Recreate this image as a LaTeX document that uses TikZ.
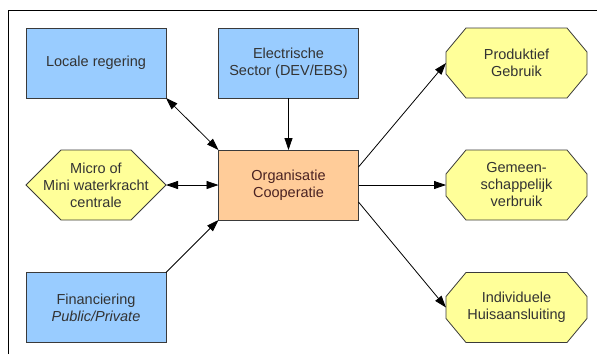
\documentclass[tikz,border=0pt]{standalone}
\usepackage{fontspec}
\setmainfont{Liberation Sans}
\usetikzlibrary{arrows.meta,calc}
\pgfdeclarelayer{bg}
\pgfsetlayers{bg,main}
\definecolor{boxblue}{HTML}{99CCFF}
\definecolor{boxorange}{HTML}{FFCC99}
\definecolor{boxyellow}{HTML}{FFFF99}
\definecolor{edgegray}{HTML}{3A3A3A}
\definecolor{txtgray}{HTML}{333333}
\definecolor{txtbrown}{HTML}{4A2222}
\tikzset{
  base/.style={minimum width=140pt, minimum height=70pt, inner sep=0pt, outer sep=0pt,
    align=center, text=txtgray, font=\fontsize{14.5}{17}\selectfont},
  bluebox/.style={base, draw=edgegray, line width=0.8pt, fill=boxblue},
  orgbox/.style={base, draw=edgegray, line width=0.8pt, fill=boxorange, text=txtbrown},
  shapebox/.style={base},
  shapeline/.style={draw=edgegray, line width=0.8pt, fill=boxyellow},
  conn/.style={line width=0.8pt, draw=black, -{Triangle[length=12pt,width=8pt]}},
  biconn/.style={line width=0.8pt, draw=black, {Triangle[length=12pt,width=8pt]}-{Triangle[length=12pt,width=8pt]}},
  frameline/.style={line width=1pt, draw=black}
}
\begin{document}
\begin{tikzpicture}[x=1pt,y=-1pt]
\useasboundingbox (0,0) rectangle (597,354);
\draw[frameline] (8,354) -- (8,10) -- (597,10);

\node[bluebox] (loc) at (96,63) {Locale regering};
\node[bluebox] (elec) at (288.5,63) {Electrische\\Sector (DEV/EBS)};
\node[orgbox] (org) at (288.5,185) {Organisatie\\Cooperatie};
\node[shapebox] (micro) at (96,185) {Micro of\\Mini waterkracht\\centrale};
\node[bluebox] (fin) at (96,307.5) {Financiering\\\textit{Public/Private}};
\node[shapebox, minimum width=141pt] (prod) at (516.5,63) {Produktief\\Gebruik};
\node[shapebox, minimum width=141pt] (gem) at (516.5,185) {Gemeen-\\schappelijk\\verbruik};
\node[shapebox, minimum width=141pt] (ind) at (516.5,307.5) {Individuele\\Huisaansluiting};

\begin{pgfonlayer}{bg}
\draw[shapeline] (micro.west) -- ($(micro.north west)+(35,0)$) -- ($(micro.north east)+(-35,0)$)
  -- (micro.east) -- ($(micro.south east)+(-35,0)$) -- ($(micro.south west)+(35,0)$) -- cycle;
\foreach \n in {prod,gem,ind}{
  \draw[shapeline] ($(\n.north west)+(0,24)$) -- ($(\n.north west)+(20,0)$) -- ($(\n.north east)+(-20,0)$)
    -- ($(\n.north east)+(0,24)$) -- ($(\n.south east)+(0,-24)$) -- ($(\n.south east)+(-20,0)$)
    -- ($(\n.south west)+(20,0)$) -- ($(\n.south west)+(0,-24)$) -- cycle;
}
\end{pgfonlayer}

\draw[biconn] (loc.south east) -- (org.north west);
\draw[conn] (elec.south) -- (org.north);
\draw[biconn] (micro.east) -- (org.west);
\draw[conn] (fin.north east) -- (org.south west);
\draw[conn] ([yshift=18pt]org.east) -- (prod.west);
\draw[conn] (org.east) -- (gem.west);
\draw[conn] ([yshift=-17pt]org.east) -- (ind.west);
\end{tikzpicture}
\end{document}
